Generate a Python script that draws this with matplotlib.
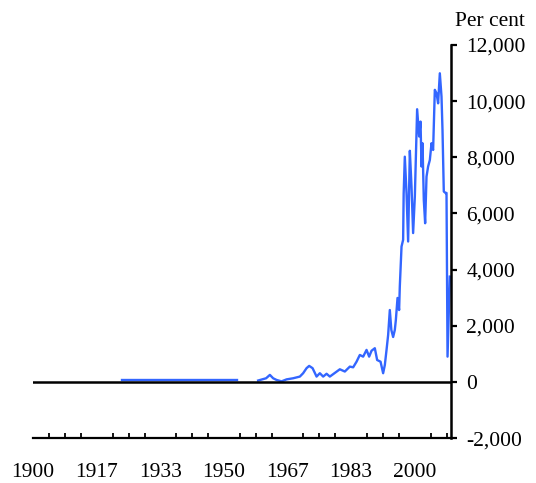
#Percentage change chart, 1900 to 2009

import matplotlib.pyplot as plt

plt.rcParams['font.family'] = ['Liberation Serif', 'DejaVu Serif']

#Part 1 data
#early flat stretch (1923 to 1953)
earlyYears = [1923.2, 1930.0, 1940.0, 1953.3]
earlyValues = [60, 60, 60, 60]

#later stretch (1959 onwards)
lateYears = [1958.96, 1961.04, 1962.03, 1962.89, 1963.78, 1965.09, 1966.40, 1968.13,
             1969.89, 1970.75, 1971.65, 1972.33, 1973.22, 1973.82, 1974.27, 1975.13,
             1976.00, 1976.89, 1977.75, 1979.06, 1980.37, 1981.68, 1982.99, 1983.86,
             1984.75, 1985.61, 1986.48, 1987.37, 1988.05, 1988.68, 1989.54, 1990.15,
             1991.04, 1991.72, 1992.16, 1992.61, 1993.03, 1993.47, 1993.87, 1994.34,
             1994.78, 1995.05, 1995.49, 1995.91, 1996.09, 1996.54, 1996.96, 1997.10,
             1997.40, 1997.85, 1998.27, 1998.72, 1999.16, 1999.58, 2000.03, 2000.63,
             2001.15, 2001.52, 2001.78, 2002.04, 2002.38, 2002.73, 2003.09, 2003.51,
             2003.96, 2004.40, 2004.82, 2005.27, 2005.71, 2006.13, 2006.58, 2007.02,
             2007.28, 2007.62, 2008.15, 2008.33, 2008.60, 2009.20]
lateValues = [50, 130, 250, 130, 70, 20, 90, 130,
              190, 310, 490, 570, 490, 320, 190, 310,
              190, 290, 190, 320, 450, 370, 545, 520,
              720, 960, 900, 1140, 900, 1110, 1200, 780,
              720, 310, 600, 1140, 1670, 2560, 1850, 1600,
              1850, 2200, 2990, 2560, 3400, 4820, 5060, 6700,
              8020, 6720, 5000, 8230, 6950, 5300, 6600, 9710,
              8740, 9270, 7670, 8500, 6480, 5650, 7310, 7670,
              7900, 8500, 8260, 10400, 10280, 9920, 10990, 10160,
              8970, 6780, 6720, 6730, 900, 3750]

#tick labels, one every 200 months
labelYears = [1900, 1900 + 200/12, 1900 + 400/12, 1950, 1900 + 800/12, 1900 + 1000/12, 2000]
labelText = ["1900", "1917", "1933", "1950", "1967", "1983", "2000"]
#small ticks every 50 months
minorYears = [1900 + i * 50/12 for i in range(27)]

yTicks = [-2000, 0, 2000, 4000, 6000, 8000, 10000, 12000]
yLabels = ["-2,000", "0", "2,000", "4,000", "6,000", "8,000", "10,000", "12,000"]

#Part 2 draw
fig = plt.figure(figsize=(5.36, 4.83), dpi=100)
ax = fig.add_axes([0.062, 0.093, 0.779, 0.814])

lineColor = "#3366FF"
ax.plot(earlyYears, earlyValues, color=lineColor, linewidth=1.7)
ax.plot(lateYears, lateValues, color=lineColor, linewidth=1.7)
ax.axhline(0, color="black", linewidth=1.8, zorder=3)

ax.set_xlim(1900, 2009.45)
ax.set_ylim(-2000, 12000)

ax.spines["top"].set_visible(False)
ax.spines["left"].set_visible(False)
ax.spines["right"].set_linewidth(1.8)
ax.spines["bottom"].set_linewidth(1.6)

ax.yaxis.tick_right()
ax.set_yticks(yTicks)
ax.set_yticklabels(yLabels)
ax.tick_params(axis="y", direction="out", length=4.3, width=1.6, pad=7, labelsize=15.5)

ax.set_xticks(minorYears, minor=True)
ax.set_xticks(labelYears)
ax.set_xticklabels(labelText)
ax.tick_params(axis="x", which="both", direction="in", length=3.8, width=1.3, pad=18, labelsize=15.5)
ax.tick_params(axis="x", which="major", length=0)

fig.text(455/536, 1 - 26/483, "Per cent", fontsize=15.5, ha="left", va="baseline")

plt.savefig("out.png", dpi=100)
